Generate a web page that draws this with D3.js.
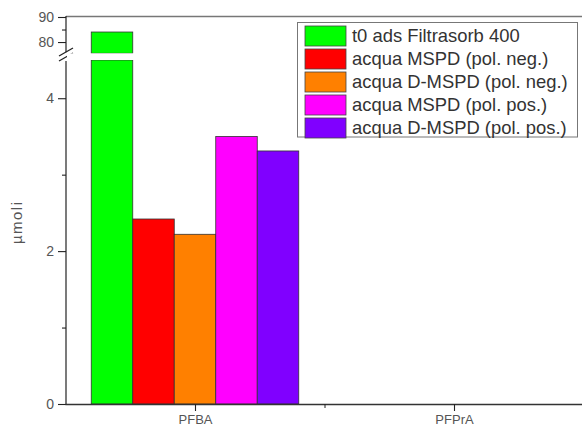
<!DOCTYPE html>
<html><head><meta charset="utf-8">
<script src="https://cdn.jsdelivr.net/npm/d3@7"></script>
<style>body{margin:0;background:#fff}svg{display:block;font-family:"Liberation Sans",Arial,sans-serif}</style>
</head><body><svg id="c" width="582" height="428"></svg>
<script>
const categories = ["PFBA","PFPrA"];
const seriesNames = ["t0 ads Filtrasorb 400","acqua MSPD (pol. neg.)","acqua D-MSPD (pol. neg.)","acqua MSPD (pol. pos.)","acqua D-MSPD (pol. pos.)"];
const seriesColors = ["#00ff00","#ff0000","#ff8000","#ff00ff","#8000ff"];
const valuesPFBA = [84, 2.42, 2.22, 3.50, 3.31];
const valuesPFPrA = [0, 0, 0, 0, 0];
const lowerTicks = [0, 2, 4];
const lowerMinor = [1, 3];
const upperTicks = [80, 90];
const upperMinor = [85];
const yLabel = "µmoli";

const values = [valuesPFBA, valuesPFPrA];
const svg = d3.select("#c");
const FONT = "Liberation Sans, Arial, sans-serif";
const x = d3.scaleLinear().domain([0.5, 2.5]).range([65.5, 583.5]);
const yLow = d3.scaleLinear().domain([0, 4.5]).range([404, 60]);
const yUp = d3.scaleLinear().domain([75.5, 90]).range([53.3, 17]);
const barW = 41.5;
const nS = seriesNames.length;

// bars
categories.forEach((c, ci) => {
  values[ci].forEach((v, si) => {
    if (v <= 0) return;
    const x0 = x(ci + 1) - nS * barW / 2 + si * barW;
    const lv = Math.min(v, 4.5);
    svg.append("rect").attr("x", x0).attr("y", yLow(lv)).attr("width", barW).attr("height", yLow(0) - yLow(lv))
      .attr("fill", seriesColors[si]).attr("stroke", "#333").attr("stroke-width", 0.8);
    if (v > 75.5) {
      svg.append("rect").attr("x", x0).attr("y", yUp(v)).attr("width", barW).attr("height", yUp(75.5) - yUp(v))
        .attr("fill", seriesColors[si]).attr("stroke", "#333").attr("stroke-width", 0.8);
    }
  });
});

// frame top line
svg.append("line").attr("x1", 66).attr("x2", 582).attr("y1", 16.5).attr("y2", 16.5).attr("stroke", "#777").attr("stroke-width", 1.6);

// y axes
function styleAxis(g) {
  g.attr("font-size", 14).attr("font-family", FONT);
  g.selectAll(".domain").remove();
  g.selectAll("line").attr("stroke", "#222").attr("stroke-width", 1.1);
  g.selectAll("text").attr("font-size", 14).attr("fill", "#555").attr("font-family", FONT);
}
styleAxis(svg.append("g").attr("transform", "translate(66,0)")
  .call(d3.axisLeft(yLow).tickValues(lowerTicks).tickSize(8).tickPadding(4).tickFormat(d3.format("d"))));
styleAxis(svg.append("g").attr("transform", "translate(66,0)")
  .call(d3.axisLeft(yLow).tickValues(lowerMinor).tickSize(4).tickFormat("")));
styleAxis(svg.append("g").attr("transform", "translate(66,0)")
  .call(d3.axisLeft(yUp).tickValues(upperTicks).tickSize(8).tickPadding(4).tickFormat(d3.format("d"))));
styleAxis(svg.append("g").attr("transform", "translate(66,0)")
  .call(d3.axisLeft(yUp).tickValues(upperMinor).tickSize(4).tickFormat("")));

// axis segments
svg.append("line").attr("x1", 66).attr("x2", 66).attr("y1", 16).attr("y2", yUp(75.5) - 1).attr("stroke", "#222").attr("stroke-width", 1.2);
svg.append("line").attr("x1", 66).attr("x2", 66).attr("y1", yLow(4.5) + 1).attr("y2", 404).attr("stroke", "#222").attr("stroke-width", 1.2);
// break marks
[0, 5].forEach(o => {
  svg.append("line").attr("x1", 59).attr("x2", 73).attr("y1", 56 + o).attr("y2", 48 + o).attr("stroke", "#222").attr("stroke-width", 1.2);
});
// white band through bars
svg.append("rect").attr("x", 67).attr("y", yUp(75.5)).attr("width", 515).attr("height", yLow(4.5) - yUp(75.5)).attr("fill", "#fff");

// x axis
const ax = svg.append("g").attr("transform", "translate(0,404)")
  .call(d3.axisBottom(x).tickValues([1, 2]).tickSize(7).tickPadding(4).tickFormat((d) => categories[d - 1]));
ax.attr("font-size", 13).attr("font-family", FONT);
ax.select(".domain").attr("d", "M65.5,0.5H582").attr("stroke", "#333").attr("stroke-width", 1.3);
ax.selectAll("line").attr("stroke", "#222").attr("stroke-width", 1.1);
ax.selectAll("text").attr("font-size", 13).attr("fill", "#555").attr("font-family", FONT);
const axm = svg.append("g").attr("transform", "translate(0,404)")
  .call(d3.axisBottom(x).tickValues([1.5]).tickSize(4).tickFormat(""));
axm.select(".domain").remove();
axm.selectAll("line").attr("stroke", "#222");

// y label
svg.append("text").attr("transform", "translate(22,223) rotate(-90)").attr("text-anchor", "middle")
  .attr("font-size", 15).attr("fill", "#555").attr("textLength", 42).attr("lengthAdjust", "spacing").text(yLabel);

// legend
const lg = svg.append("g");
lg.append("rect").attr("x", 297.5).attr("y", 22.5).attr("width", 280).attr("height", 114.5)
  .attr("fill", "#fff").attr("stroke", "#777").attr("stroke-width", 1);
seriesNames.forEach((n, i) => {
  const yy = 26 + i * 23;
  lg.append("rect").attr("x", 305).attr("y", yy).attr("width", 41).attr("height", 20)
    .attr("fill", seriesColors[i]).attr("stroke", "#444").attr("stroke-width", 0.8);
  lg.append("text").attr("x", 352).attr("y", yy + 15.5).attr("font-size", 18.4).attr("fill", "#333").text(n);
});
</script></body></html>
